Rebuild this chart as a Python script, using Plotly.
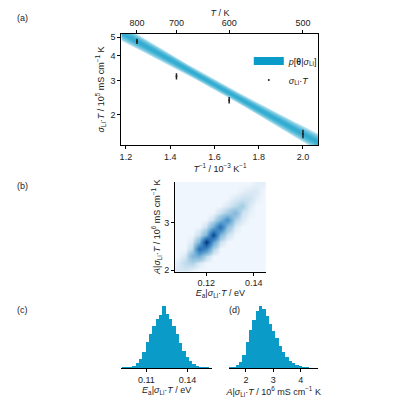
import numpy as np
import plotly.graph_objects as go

# --- data (a)
inv_T = [1.25, 1.4286, 1.6667, 2.0]
sigT = [4.75, 3.15, 2.38, 1.60]
sigT_err = [0.15, 0.12, 0.09, 0.08]
T_ticks = [800, 700, 600, 500]
fit_intercept = 3.37
fit_slope = -1.45
band_sd = [0.012, 0.024, 0.036, 0.048, 0.06]

# --- data (b)
b_x = [0.108, 0.111, 0.114, 0.117, 0.120, 0.123, 0.126, 0.129, 0.132, 0.135, 0.138, 0.141, 0.144]
b_y = [2.0, 2.15, 2.3, 2.45, 2.6, 2.75, 2.9, 3.05, 3.2, 3.35, 3.5, 3.65, 3.8]
b_z = [
 [1, 1.5, 0.5, 0, 0, 0, 0, 0, 0, 0, 0, 0, 0],
 [0.5, 3, 4, 1, 0, 0, 0, 0, 0, 0, 0, 0, 0],
 [0, 1, 10, 12, 3, 0, 0, 0, 0, 0, 0, 0, 0],
 [0, 0, 3, 30, 22, 4, 0, 0, 0, 0, 0, 0, 0],
 [0, 0, 1, 10, 45, 15, 2, 0, 0, 0, 0, 0, 0],
 [0, 0, 0, 2, 10, 40, 10, 2, 0, 0, 0, 0, 0],
 [0, 0, 0, 0, 2, 12, 30, 8, 1, 0, 0, 0, 0],
 [0, 0, 0, 0, 0, 2, 10, 20, 4, 1, 0, 0, 0],
 [0, 0, 0, 0, 0, 0, 2, 5, 10, 2, 0.5, 0, 0],
 [0, 0, 0, 0, 0, 0, 0, 1, 3, 5, 1, 0, 0],
 [0, 0, 0, 0, 0, 0, 0, 0, 1, 2, 2, 0.5, 0],
 [0, 0, 0, 0, 0, 0, 0, 0, 0, 0.5, 1, 1, 0],
 [0, 0, 0, 0, 0, 0, 0, 0, 0, 0, 0, 0.5, 0.5],
]

# --- data (c)
c_start, c_step = 0.0939, 0.00244
c_h = [0.01, 0.01, 0.02, 0.04, 0.08, 0.15, 0.26, 0.42, 0.56, 0.68, 0.8, 0.86, 1.0,
       0.88, 0.8, 0.68, 0.55, 0.4, 0.28, 0.18, 0.12, 0.07, 0.04, 0.02, 0.01, 0.005]
# --- data (d)
d_start, d_step = 1.444, 0.121
d_h = [0.01, 0.02, 0.05, 0.1, 0.22, 0.42, 0.62, 0.78, 0.92, 1.0, 0.95, 0.85, 0.72,
       0.6, 0.48, 0.36, 0.26, 0.18, 0.12, 0.08, 0.05, 0.03, 0.02, 0.01]

BLUE = "#0a9bc8"
FONT = "Liberation Sans"
fig = go.Figure()

xs = np.linspace(1.18, 2.07, 60)
xc = 1.6
for sd in band_sd[::-1]:
    w = sd * np.sqrt(1 + ((xs - xc) / 0.35) ** 2)
    c = fit_intercept + fit_slope * xs
    up = np.exp(c + w); lo = np.exp(c - w)
    fig.add_trace(go.Scatter(x=np.concatenate([xs, xs[::-1]]), y=np.concatenate([up, lo[::-1]]),
                             fill="toself", fillcolor="rgba(10,155,200,0.3)", line=dict(width=0),
                             mode="lines", showlegend=False, hoverinfo="skip", xaxis="x", yaxis="y"))
fig.add_trace(go.Scatter(x=[None], y=[None], mode="lines", line=dict(color=BLUE, width=8),
                         name="<i>p</i>[<b>θ</b>|<i>σ</i><sub>Li</sub>]", xaxis="x", yaxis="y"))
fig.add_trace(go.Scatter(x=inv_T, y=sigT, mode="markers", marker=dict(size=2, color="#222"),
                         error_y=dict(type="data", array=sigT_err, color="#222", width=0, thickness=1.5),
                         name="<i>σ</i><sub>Li</sub>·<i>T</i>", xaxis="x", yaxis="y"))
fig.add_trace(go.Scatter(x=[None], y=[None], xaxis="x2", yaxis="y", showlegend=False))

fig.add_trace(go.Heatmap(x=b_x, y=b_y, z=b_z, zsmooth="best", showscale=False,
                         colorscale=[[0, "#f0f6fd"], [0.02, "#dceaf6"], [0.1, "#a9cfe5"], [0.35, "#5a9fd0"],
                                     [0.7, "#1f67b0"], [1, "#08306b"]],
                         xaxis="x3", yaxis="y3"))
fig.add_trace(go.Bar(x=[c_start + i * c_step for i in range(len(c_h))], y=c_h, width=c_step,
                     marker=dict(color=BLUE, line=dict(width=0)), showlegend=False,
                     xaxis="x4", yaxis="y4"))
fig.add_trace(go.Bar(x=[d_start + i * d_step for i in range(len(d_h))], y=d_h, width=d_step,
                     marker=dict(color=BLUE, line=dict(width=0)), showlegend=False,
                     xaxis="x5", yaxis="y5"))

ax = dict(showgrid=False, zeroline=False, ticks="outside", ticklen=3, linecolor="black",
          tickcolor="black", showline=True, tickfont=dict(size=9))
tf = dict(size=9)
fig.update_layout(
    width=400, height=400, margin=dict(l=0, r=0, t=0, b=0), plot_bgcolor="white",
    font=dict(family=FONT, size=9, color="#222"), bargap=0,
    xaxis=dict(ax, domain=[0.28, 0.775], range=[1.18, 2.07], mirror=True, tickvals=[1.2, 1.4, 1.6, 1.8, 2.0],
               ticktext=["1.2", "1.4", "1.6", "1.8", "2.0"],
               title=dict(text="<i>T</i><sup>−1</sup> / 10<sup>−3</sup> K<sup>−1</sup>", font=tf, standoff=4), anchor="y"),
    xaxis2=dict(ax, overlaying="x", side="top", range=[1.18, 2.07], tickvals=[1000 / t for t in T_ticks],
                ticktext=[str(t) for t in T_ticks], title=dict(text="<i>T</i> / K", font=tf, standoff=0), anchor="y"),
    yaxis=dict(ax, domain=[0.655, 0.9375], type="log", range=[np.log10(1.4), np.log10(5.2)], mirror=True,
               tickvals=[2, 3, 4, 5], ticktext=["2", "3", "4", "5"],
               title=dict(text="<i>σ</i><sub>Li</sub>·<i>T</i> / 10<sup>5</sup> mS cm<sup>−1</sup> K", font=tf, standoff=4), anchor="x"),
    xaxis3=dict(ax, domain=[0.415, 0.6425], range=[0.107, 0.145], tickvals=[0.12, 0.14], anchor="y3",
                title=dict(text="<i>E</i><sub>a</sub>|<i>σ</i><sub>Li</sub>·<i>T</i> / eV", font=tf, standoff=2)),
    yaxis3=dict(ax, domain=[0.335, 0.5625], range=[1.97, 3.85], tickvals=[2, 3], anchor="x3",
                title=dict(text="<i>A</i>|<i>σ</i><sub>Li</sub>·<i>T</i> / 10<sup>6</sup> mS cm<sup>−1</sup> K", font=tf, standoff=2)),
    xaxis4=dict(ax, domain=[0.28, 0.5075], range=[0.0917, 0.158], tickvals=[0.11, 0.14], anchor="y4",
                title=dict(text="<i>E</i><sub>a</sub>|<i>σ</i><sub>Li</sub>·<i>T</i> / eV", font=tf, standoff=0)),
    yaxis4=dict(domain=[0.09, 0.25], range=[0, 1.02], visible=False, anchor="x4"),
    xaxis5=dict(ax, domain=[0.55, 0.775], range=[1.38, 4.65], tickvals=[2, 3, 4], anchor="y5",
                title=dict(text="<i>A</i>|<i>σ</i><sub>Li</sub>·<i>T</i> / 10<sup>6</sup> mS cm<sup>−1</sup> K", font=tf, standoff=0)),
    yaxis5=dict(domain=[0.09, 0.25], range=[0, 1.02], visible=False, anchor="x5"),
    legend=dict(x=0.6, y=0.905, xanchor="left", yanchor="top", bgcolor="rgba(0,0,0,0)", font=dict(size=9),
                tracegroupgap=2),
    annotations=[
        dict(text="(a)", x=0.012, y=0.995, xref="paper", yref="paper", showarrow=False, xanchor="left", yanchor="top"),
        dict(text="(b)", x=0.012, y=0.57, xref="paper", yref="paper", showarrow=False, xanchor="left", yanchor="top"),
        dict(text="(c)", x=0.012, y=0.255, xref="paper", yref="paper", showarrow=False, xanchor="left", yanchor="top"),
        dict(text="(d)", x=0.545, y=0.255, xref="paper", yref="paper", showarrow=False, xanchor="left", yanchor="top"),
    ],
)
fig.write_html("out.html")
